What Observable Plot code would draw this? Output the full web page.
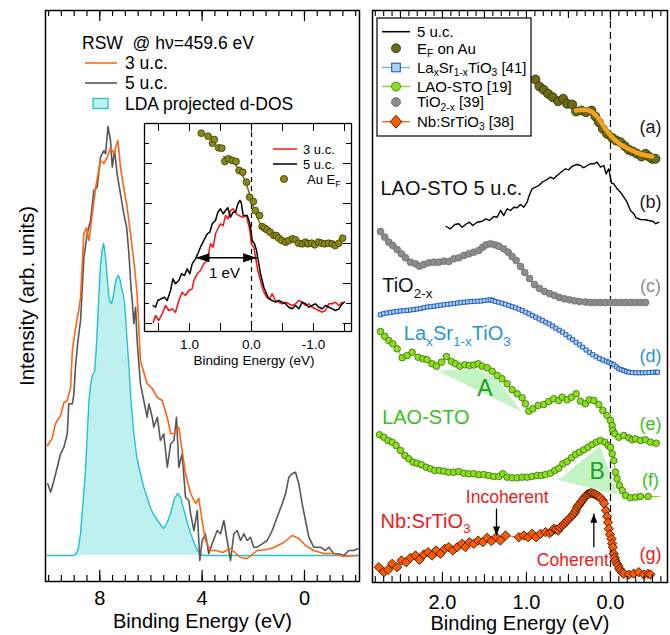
<!DOCTYPE html>
<html><head><meta charset="utf-8">
<script src="https://cdn.jsdelivr.net/npm/d3@7"></script>
<script src="https://cdn.jsdelivr.net/npm/@observablehq/plot@0.6"></script>
<style>
body{margin:0;background:#fff;}
#wrap{position:relative;width:670px;height:635px;overflow:hidden;background:#fff;font-family:"Liberation Sans",Arial,Helvetica,sans-serif;}
</style></head><body><div id="wrap"></div>
<script>
// ---------------- DATA (left panel: binding energy eV, intensity arb. units) ----------------
const leftTickLabels = [8, 4, 0];
const leftSeries = ["3 u.c.", "5 u.c.", "LDA projected d-DOS"];
const leftTitle = "RSW\u00a0\u00a0@ hν=459.6 eV";
const ldaDOS = [[10.05,0],[9.5,0],[9.0,0],[8.9,3],[8.83,8],[8.75,22],[8.68,45],[8.63,60],[8.55,88],[8.49,120],[8.42,155],[8.35,172],[8.29,180],[8.2,184],[8.14,205],[8.09,230],[8.03,262],[7.97,290],[7.9,306],[7.85,312],[7.79,302],[7.73,285],[7.67,265],[7.62,255],[7.54,252],[7.48,258],[7.42,268],[7.35,277],[7.27,280],[7.21,276],[7.15,268],[7.09,262],[7.03,252],[6.95,222],[6.86,188],[6.78,155],[6.67,122],[6.55,98],[6.41,82],[6.3,70],[6.2,62],[6.1,54],[6.02,48],[5.88,40],[5.74,35],[5.6,30],[5.51,27],[5.43,29],[5.35,34],[5.23,42],[5.15,50],[5.08,57],[4.96,62],[4.84,58],[4.73,47],[4.65,40],[4.57,32],[4.45,22],[4.3,12],[4.18,5],[4.05,1],[3.95,0],[3,0],[2,0],[1,0],[0,0],[-1,0],[-2.12,0]];
const rsw3uc = [[10.04,110],[9.86,117],[9.73,132],[9.53,140],[9.4,153],[9.27,155],[9.14,168],[9.07,205],[8.95,227],[8.82,245],[8.75,258],[8.62,322],[8.52,328],[8.42,315],[8.29,342],[8.16,368],[7.97,395],[7.84,392],[7.71,398],[7.58,408],[7.45,402],[7.29,415],[7.19,388],[7.06,368],[6.93,348],[6.8,322],[6.67,295],[6.54,262],[6.41,195],[6.15,172],[5.95,167],[5.75,158],[5.56,155],[5.36,138],[5.23,122],[5.1,122],[4.91,128],[4.78,105],[4.65,82],[4.45,62],[4.26,52],[4.13,57],[4.0,35],[3.87,15],[3.67,5],[3.46,5],[3.2,3],[2.89,7],[2.5,-2],[2.24,-3],[1.85,5],[1.46,6],[1.2,8],[0.81,13],[0.48,20],[0.22,17],[-0.04,10],[-0.36,5],[-0.75,2],[-1.14,2],[-1.54,-1],[-2.06,0]];
const rsw5uc = [[10.03,71.7],[9.92,63.3],[9.79,75],[9.66,88.3],[9.53,101.7],[9.4,108.3],[9.27,121.7],[9.21,151.7],[9.07,151.7],[9.01,161.7],[8.95,188.3],[8.85,215],[8.75,235],[8.62,298],[8.49,321.7],[8.36,335],[8.23,365],[8.1,368.3],[7.97,398.3],[7.84,405],[7.77,401.7],[7.68,429],[7.58,415],[7.51,388.3],[7.42,405],[7.32,381.7],[7.19,361.7],[7.06,341.7],[6.95,328.3],[6.86,301.7],[6.77,265],[6.73,255],[6.67,231.7],[6.6,248.3],[6.54,215],[6.41,171.7],[6.28,155],[6.15,138.3],[6.08,151.7],[5.95,138.3],[5.89,128.3],[5.75,138.3],[5.63,115],[5.5,121.7],[5.36,88.3],[5.23,111.7],[5.1,115],[5.0,138.3],[4.91,88.3],[4.78,101.7],[4.65,58.3],[4.52,55],[4.45,41.7],[4.32,25],[4.19,45],[4.09,-5],[4.0,15],[3.87,21.7],[3.74,1.7],[3.61,11.7],[3.41,25],[3.28,21.7],[3.15,35],[3.02,15],[2.89,-5],[2.76,21.7],[2.63,25],[2.5,15],[2.37,21.7],[2.24,15],[2.11,18.3],[1.98,8.3],[1.85,8.3],[1.65,11.7],[1.46,15],[1.26,25],[1.07,38.3],[0.87,51.7],[0.74,61.7],[0.61,78.3],[0.48,81.7],[0.35,83.3],[0.22,71.7],[0.09,51.7],[-0.04,35],[-0.17,18.3],[-0.36,8.3],[-0.63,8.3],[-0.82,5],[-0.95,8.3],[-1.15,1.7],[-1.34,1.7],[-1.54,0],[-1.73,5],[-1.93,5],[-2.08,6.7]];

// ---------------- DATA (inset) ----------------
const insetTickLabels = [1, 0, -1];
const insetSeries = ["3 u.c.", "5 u.c.", "Au E_{F}"];
const inset3uc = [[1.586,9.3],[1.548,16],[1.495,11],[1.441,17.7],[1.387,26],[1.333,21],[1.28,22.7],[1.226,19.3],[1.172,31],[1.118,39.3],[1.065,36],[1.011,41],[0.957,42.7],[0.93,51],[0.876,57.7],[0.823,61],[0.769,67.7],[0.715,71],[0.661,87.7],[0.618,84.3],[0.581,97.7],[0.543,102.7],[0.5,107.7],[0.457,106],[0.419,116],[0.376,112.7],[0.339,121],[0.296,122.7],[0.242,117.7],[0.204,116],[0.151,114.3],[0.113,115],[0.081,116],[0.059,109.3],[0.027,101],[0.0,87.7],[-0.038,84.3],[-0.065,74.3],[-0.102,61],[-0.145,51],[-0.188,41],[-0.242,34.3],[-0.296,32.7],[-0.333,37.7],[-0.387,31],[-0.441,29.3],[-0.495,27.7],[-0.548,29.3],[-0.602,27.7],[-0.656,26],[-0.71,27.7],[-0.763,31],[-0.817,29.3],[-0.871,26],[-0.925,27.7],[-0.978,24.3],[-1.032,22.7],[-1.086,21],[-1.14,19.3],[-1.194,21],[-1.247,27.7],[-1.301,27.7],[-1.355,29.3],[-1.409,26],[-1.462,29.3]];
const inset5uc = [[1.586,26],[1.548,24.3],[1.511,31],[1.457,32.7],[1.403,34.3],[1.36,31],[1.306,41],[1.269,52.7],[1.226,47.7],[1.172,51],[1.129,57.7],[1.081,56],[1.038,62.7],[0.995,57.7],[0.957,67.7],[0.903,72.7],[0.866,77.7],[0.823,84.3],[0.769,91],[0.715,97.7],[0.672,99.3],[0.634,107.7],[0.581,111],[0.543,119.3],[0.5,122.7],[0.457,117.7],[0.419,121],[0.382,123.7],[0.339,114.3],[0.296,119.3],[0.258,119.3],[0.22,127.7],[0.188,131],[0.167,129.3],[0.134,116],[0.097,116],[0.07,116],[0.043,111],[0.016,104.3],[-0.011,91],[-0.048,87.7],[-0.081,81],[-0.108,71],[-0.145,57.7],[-0.172,51],[-0.199,44.3],[-0.242,37.7],[-0.28,32.7],[-0.333,31],[-0.387,29.3],[-0.441,31],[-0.495,29.3],[-0.548,27.7],[-0.602,24.3],[-0.656,22.7],[-0.71,26],[-0.763,22.7],[-0.817,29.3],[-0.871,27.7],[-0.925,24.3],[-0.978,26],[-1.032,27.7],[-1.086,24.3],[-1.14,22.7],[-1.194,26],[-1.247,24.3],[-1.301,22.7],[-1.355,21],[-1.409,22.7],[-1.462,27.7],[-1.5,29.3]];
const insetAuEF = [[0.81,198.3],[0.7,195.3],[0.63,188.3],[0.6,192],[0.53,183.7],[0.48,183.3],[0.43,170],[0.37,172.7],[0.31,171],[0.25,170],[0.2,161],[0.14,159.3],[0.08,149.3],[0.03,134.3],[-0.03,130],[-0.06,121],[-0.13,116],[-0.17,105],[-0.21,103.3],[-0.25,101.7],[-0.3,99.3],[-0.36,96],[-0.4,96],[-0.44,93.3],[-0.49,91],[-0.55,89.3],[-0.6,91],[-0.66,92.7],[-0.71,91.7],[-0.76,88.3],[-0.82,87.7],[-0.87,89.3],[-0.91,87.7],[-0.97,88.3],[-1.02,86.7],[-1.08,89.3],[-1.13,88.3],[-1.18,87.7],[-1.24,88.3],[-1.3,87.7],[-1.35,86],[-1.41,88.3],[-1.47,93.3]];
const insetAuFit = [[0.45,175],[0.35,171],[0.25,166],[0.18,160],[0.12,153],[0.07,145],[0.03,137],[0.0,131],[-0.04,123],[-0.08,116],[-0.13,109],[-0.2,103],[-0.28,98],[-0.38,95],[-0.5,92],[-0.7,90],[-1.0,88.5],[-1.3,88],[-1.45,88]];
const widthArrow = [{from: 0.903, to: -0.091, level: 73.7, text: "1 eV", tE: 0.435, tI: 58.3}];

// ---------------- DATA (right panel) ----------------
const rightTickLabels = [2, 1, 0];
const rightSeries = ["5 u.c.", "E_{F} on Au", "La_{x}Sr_{1-x}TiO_{3} [41]", "LAO-STO [19]", "TiO_{2-x} [39]", "Nb:SrTiO_{3} [38]"];
const efOnAu = [[0.893,503],[0.845,496],[0.794,492.7],[0.742,488.7],[0.687,485.3],[0.623,481.3],[0.563,483.7],[0.516,478.7],[0.456,478],[0.409,471],[0.345,472],[0.29,470.3],[0.226,472],[0.179,466],[0.139,460.3],[0.091,453.7],[0.04,448.7],[-0.02,444.7],[-0.067,442],[-0.119,440.3],[-0.171,436.3],[-0.218,432.7],[-0.266,431],[-0.317,428.7],[-0.369,426],[-0.417,428.7],[-0.456,426],[-0.496,423.7],[-0.536,423.7]];
const efFit = [[0.409,472],[0.298,472.7],[0.218,470.3],[0.139,463.7],[0.06,453.7],[-0.02,445.3],[-0.099,439.3],[-0.179,435.3],[-0.258,432],[-0.377,428],[-0.496,426]];
const lao5uc = [[1.956,356],[1.905,353.7],[1.853,358],[1.806,358.7],[1.766,355.3],[1.726,358],[1.679,360.3],[1.639,357],[1.587,360.3],[1.528,361.3],[1.48,363.7],[1.44,362],[1.389,366],[1.349,365.3],[1.31,372],[1.27,367],[1.23,373.7],[1.19,372],[1.151,375.3],[1.111,374.7],[1.071,378],[1.032,375.3],[0.992,380.3],[0.972,386],[0.933,393.7],[0.893,395.3],[0.853,397],[0.813,400.3],[0.774,402],[0.714,405.3],[0.675,403.7],[0.635,407],[0.575,411.3],[0.536,413.7],[0.496,412.7],[0.456,416.3],[0.397,418],[0.357,417],[0.317,414.7],[0.278,417],[0.238,418.7],[0.198,418.7],[0.159,420.3],[0.119,415.3],[0.079,417],[0.052,408.7],[0.02,413.7],[-0.012,399.3],[-0.04,398.7],[-0.079,393.7],[-0.119,390.3],[-0.159,385.3],[-0.198,380.3],[-0.238,372],[-0.278,368.7],[-0.306,364.7],[-0.357,363],[-0.417,362.7],[-0.456,362],[-0.504,361.3],[-0.536,358.7],[-0.575,360.3]];
const tio2x = [[2.738,351],[2.687,345.3],[2.639,340.3],[2.591,337],[2.54,333],[2.488,328.7],[2.44,324.7],[2.381,320.3],[2.321,318.7],[2.274,316.3],[2.222,318],[2.163,319.7],[2.103,320.3],[2.044,320.3],[1.984,321.3],[1.925,321],[1.865,323.7],[1.806,324.7],[1.746,327],[1.687,328.7],[1.627,330.3],[1.567,332],[1.52,335.3],[1.48,337.7],[1.429,338.7],[1.377,337.7],[1.329,336.3],[1.27,333.7],[1.218,330.3],[1.171,326],[1.123,322],[1.071,316],[1.02,310],[0.964,304],[0.905,298],[0.845,294],[0.786,291],[0.726,289],[0.667,287],[0.607,285],[0.548,283.7],[0.488,282.7],[0.429,281.7],[0.369,281],[0.298,280.5],[0.238,280],[0.179,280],[0.119,280],[0.06,280],[0.0,280],[-0.06,280],[-0.119,280],[-0.179,280],[-0.238,280],[-0.298,280],[-0.357,280],[-0.417,280]];
const lasrtio3 = [[2.74,267.7],[2.7,268.8],[2.66,269.5],[2.62,270],[2.58,270.6],[2.54,271],[2.5,271.5],[2.46,271.8],[2.42,272.1],[2.38,272.5],[2.34,273],[2.3,273.5],[2.26,274],[2.22,274.8],[2.18,275.5],[2.14,275.8],[2.1,276.3],[2.06,276.8],[2.02,277.3],[1.98,277.8],[1.94,278.2],[1.9,278.6],[1.86,279],[1.82,279.5],[1.78,279.9],[1.74,280.3],[1.7,280.6],[1.66,280.9],[1.62,281.1],[1.58,281.3],[1.54,281.5],[1.5,282],[1.46,282.3],[1.43,282.7],[1.4,282],[1.37,281],[1.33,280.3],[1.29,279.3],[1.25,278.2],[1.21,277],[1.17,275.8],[1.13,274.7],[1.09,273.4],[1.05,272],[1.01,270.3],[0.97,268.7],[0.93,267],[0.89,265.3],[0.85,263.6],[0.81,262],[0.77,260.3],[0.73,258.6],[0.69,256.5],[0.65,254.3],[0.61,252.3],[0.57,250.3],[0.53,247.8],[0.49,245.3],[0.45,242.8],[0.41,240.3],[0.37,237.8],[0.33,235.3],[0.29,232.5],[0.25,230],[0.21,227.8],[0.17,225.8],[0.13,224],[0.09,222.5],[0.05,221.3],[0.02,220.3],[-0.01,219],[-0.04,217.7],[-0.07,215.7],[-0.1,213.7],[-0.13,212.8],[-0.16,212],[-0.19,211],[-0.22,210.3],[-0.26,210],[-0.3,209.7],[-0.34,209.7],[-0.38,209.7],[-0.42,209.8],[-0.46,210],[-0.5,210.2],[-0.54,210.3],[-0.56,210.3]];
const laoStoE = [[2.738,251],[2.687,246],[2.639,242],[2.591,238.7],[2.54,233.7],[2.48,224.7],[2.421,227],[2.361,230.3],[2.29,225.3],[2.234,223.7],[2.183,222.7],[2.123,218.7],[2.071,216.3],[2.012,220.3],[1.952,226],[1.893,221],[1.845,218.7],[1.794,216.3],[1.734,217.7],[1.679,217],[1.627,217.5],[1.575,218.7],[1.528,216.3],[1.468,214.7],[1.409,211.3],[1.349,207],[1.29,203.7],[1.23,198.7],[1.171,192.7],[1.111,188.7],[1.052,184.7],[1.012,178.7],[0.972,171.3],[0.925,173.7],[0.861,177],[0.794,178],[0.734,181],[0.675,183.7],[0.615,182],[0.575,185.3],[0.516,182.7],[0.464,185.3],[0.409,188.7],[0.357,181.3],[0.298,178.7],[0.25,182.7],[0.198,182],[0.139,178],[0.091,172],[0.04,167],[0.0,162],[-0.02,157],[-0.028,152],[-0.052,148.7],[-0.099,145.3],[-0.159,147],[-0.218,144.7],[-0.258,142.7],[-0.298,143.7],[-0.357,142],[-0.417,142.7],[-0.476,140.3],[-0.544,139.3]];
const laoStoF = [[2.75,147.7],[2.698,145.3],[2.647,142],[2.599,140.3],[2.552,137],[2.5,132],[2.448,127],[2.401,123.7],[2.349,120.3],[2.302,119.3],[2.25,117.7],[2.194,115.3],[2.143,113.7],[2.091,112],[2.036,112],[1.984,111.3],[1.925,110.3],[1.865,110.3],[1.806,111],[1.746,109.3],[1.687,108.7],[1.627,108.7],[1.567,107.7],[1.508,108],[1.448,107],[1.389,106],[1.329,106],[1.282,108.7],[1.23,105.3],[1.171,104.7],[1.111,104.7],[1.052,105.3],[0.992,105.3],[0.933,106],[0.873,107],[0.821,107],[0.774,108],[0.714,109.3],[0.663,112],[0.615,114.3],[0.567,118.7],[0.516,121],[0.464,124.7],[0.417,128],[0.369,130.3],[0.317,132.7],[0.266,135.3],[0.218,138],[0.167,140.3],[0.119,142],[0.067,140.3],[0.028,137],[0.0,135.3],[-0.02,128.7],[-0.04,122],[-0.06,110.3],[-0.079,103.7],[-0.107,97],[-0.139,92],[-0.179,87],[-0.238,84.7],[-0.298,85.3],[-0.357,86],[-0.448,86]];
const laoStoFTail = [[-0.448,86],[-0.583,86]];
const nbSrTiO3 = [[2.758,15.3],[2.698,10.3],[2.647,12.7],[2.599,18.7],[2.54,15.3],[2.488,22],[2.433,20.3],[2.381,24.7],[2.321,27],[2.274,22.7],[2.222,28],[2.171,30.3],[2.123,27],[2.075,32],[2.024,28.7],[1.972,33.7],[1.925,35.3],[1.877,32],[1.825,35.3],[1.766,38.7],[1.726,35.3],[1.679,40.3],[1.627,38.7],[1.575,42],[1.52,40.3],[1.468,44.7],[1.417,41.3],[1.361,45.3],[1.31,42],[1.25,47],[1.091,45.3],[1.032,47],[0.98,45.3],[0.933,48.7],[0.885,45.3],[0.833,48.7],[0.774,50.3],[0.726,49.3],[0.7,51],[0.675,53.7],[0.65,53],[0.623,52],[0.6,55],[0.575,57],[0.555,58.5],[0.536,60.3],[0.515,62],[0.496,63.7],[0.475,65.3],[0.456,67],[0.44,68.5],[0.425,70.3],[0.41,72.5],[0.397,75.3],[0.38,77],[0.365,78.7],[0.35,80.5],[0.337,82],[0.32,83.7],[0.306,85.3],[0.29,86.7],[0.278,88],[0.26,88.7],[0.238,89.3],[0.22,89.3],[0.198,88.7],[0.18,88],[0.159,87],[0.14,86],[0.119,84.7],[0.091,82],[0.075,79],[0.055,72],[0.04,66],[0.03,60],[0.02,53.7],[0.005,48],[-0.012,43.7],[-0.02,39],[-0.028,35.3],[-0.04,28.7],[-0.05,25],[-0.06,22],[-0.075,19],[-0.091,17],[-0.105,14],[-0.119,12],[-0.14,10],[-0.159,8.7],[-0.218,8],[-0.278,9],[-0.337,10.3],[-0.397,8],[-0.448,8.7],[-0.476,8]];
const shadeA = [[2.052,211.3,211.3],[1.587,192,213],[1.33,181.7,202],[1.052,170.3,170.3]];
const shadeB = [[0.615,102,102],[0.119,91.6,136],[-0.099,87,87]];
const shadeLetters = [{t:"A", E:1.496, v:193.7},{t:"B", E:0.159, v:111.3}];
const curveTags = ["(a)","(b)","(c)","(d)","(e)","(f)","(g)"];
const curveTagLevels = [455.3, 380.3, 296, 226, 158, 102.7, 28];
const curveTagE = -0.476;
const curveNames = [{t:"LAO-STO 5 u.c.", E:2.738, v:393.7},{t:"TiO_{2-x}", E:2.718, v:297},{t:"La_{x}Sr_{1-x}TiO_{3}", E:2.46, v:249},{t:"LAO-STO", E:2.718, v:165.3},{t:"Nb:SrTiO_{3}", E:2.738, v:61.3}];
const peakNotes = [{t:"Incoherent", E:1.23, v:85.3, from:74, to:47, aE:1.357},{t:"Coherent", E:0.448, v:22, from:35.3, to:68.7, aE:0.198}];

// ---------------- helpers ----------------
const FONT = '"Liberation Sans", Arial, Helvetica, sans-serif';
const wrap = document.getElementById("wrap");
const X = d => d[0], Y = d => d[1];
function rich(s, fs, k = 0.28) {
  let out = "", down = false;
  for (const p of s.split(/(_\{[^}]*\})/)) {
    if (!p) continue;
    if (p.startsWith("_{")) { out += `<tspan font-size="${(fs*0.68).toFixed(1)}" dy="${down?0:(fs*k).toFixed(1)}">${p.slice(2,-1)}</tspan>`; down = true; }
    else { out += `<tspan dy="${down?(-fs*k).toFixed(1):0}">${p}</tspan>`; down = false; }
  }
  return out;
}
function place(svg, left, top) {
  Object.assign(svg.style, {position:"absolute", left:left+"px", top:top+"px", background:"transparent", overflow:"visible", maxWidth:"none"});
  wrap.appendChild(svg);
  svg.querySelectorAll("text").forEach(t => {
    const s = t.textContent;
    if (!s.includes("_{")) return;
    const fs = parseFloat(getComputedStyle(t).fontSize) || 16;
    t.innerHTML = rich(s, fs);
  });
}
const headR = {draw(c){c.moveTo(0,0);c.lineTo(-14,-4.5);c.lineTo(-14,4.5);c.closePath();}};
const headL = {draw(c){c.moveTo(0,0);c.lineTo(14,-4.5);c.lineTo(14,4.5);c.closePath();}};
const headD = {draw(c){c.moveTo(0,0);c.lineTo(-3.5,-9);c.lineTo(3.5,-9);c.closePath();}};
const headU = {draw(c){c.moveTo(0,0);c.lineTo(-3.5,9);c.lineTo(3.5,9);c.closePath();}};

// ---------------- LEFT PANEL ----------------
{
  const W = 365, H = 635, mT = 10, mB = 54, frameH = H - mT - mB;
  const ticks = d3.range(-2, 10.01, 0.5);
  const svg = Plot.plot({
    width: W, height: H, marginLeft: 45, marginRight: 6, marginTop: mT, marginBottom: mB,
    x: {domain: [10.12, -2.15]},
    y: {domain: [-26, 545], axis: null},
    style: {fontFamily: FONT, color: "black"},
    marks: [
      Plot.areaY(ldaDOS, {x: X, y: Y, fill: "#bff0f0"}),
      Plot.line(ldaDOS, {x: X, y: Y, stroke: "#22c3cb", strokeWidth: 1.4}),
      Plot.line(rsw5uc, {x: X, y: Y, stroke: "#575757", strokeWidth: 1.6}),
      Plot.line(rsw3uc, {x: X, y: Y, stroke: "#ff6414", strokeWidth: 1.6}),
      Plot.frame({stroke: "black", strokeWidth: 1.5}),
      Plot.tickX(ticks, {x: d => d, insetTop: frameH - 6, stroke: "black", strokeWidth: 1.2}),
      Plot.tickX(ticks, {x: d => d, insetBottom: frameH - 6, stroke: "black", strokeWidth: 1.2}),
      Plot.tickX(leftTickLabels, {x: d => d, insetTop: frameH - 11, stroke: "black", strokeWidth: 1.2}),
      Plot.tickX(leftTickLabels, {x: d => d, insetBottom: frameH - 11, stroke: "black", strokeWidth: 1.2}),
      Plot.axisX({ticks: leftTickLabels, anchor: "bottom", tickSize: 0, tickPadding: 9, fontSize: 20, tickFormat: d => String(d), label: null}),
      Plot.text(["Binding Energy (eV)"], {frameAnchor: "bottom", dy: 32, lineAnchor: "top", fontSize: 20}),
      Plot.text(["Intensity (arb. units)"], {frameAnchor: "left", dx: -18, rotate: -90, textAnchor: "middle", fontSize: 20.5})
    ]
  });
  place(svg, 0, 0);
}

// ---------------- INSET ----------------
{
  const W = 265, H = 260, mL = 44, mR = 14, mT = 13, mB = 39;
  const frameW = W - mL - mR, frameH = H - mT - mB;
  const xt = d3.range(-1.5, 1.51, 0.5);
  const yLong = [8, 48, 88, 128, 168], yShort = [28, 68, 108, 148, 188];
  const a = widthArrow;
  const svg = Plot.plot({
    width: W, height: H, marginLeft: mL, marginRight: mR, marginTop: mT, marginBottom: mB,
    x: {domain: [1.726, -1.613]},
    y: {domain: [0, 208], axis: null},
    style: {fontFamily: FONT, color: "black"},
    marks: [
      Plot.frame({fill: "white"}),
      Plot.ruleX([0], {stroke: "black", strokeWidth: 1.2, strokeDasharray: "5,4"}),
      Plot.line(inset3uc, {x: X, y: Y, stroke: "#ff1010", strokeWidth: 1.5}),
      Plot.line(inset5uc, {x: X, y: Y, stroke: "black", strokeWidth: 1.5}),
      Plot.line(insetAuFit, {x: X, y: Y, stroke: "#6e6e10", strokeWidth: 1.5, curve: "catmull-rom"}),
      Plot.dot(insetAuEF, {x: X, y: Y, r: 3.4, fill: "#8a8a18", stroke: "#3a3a00", strokeWidth: 0.8}),
      Plot.link(a, {x1: d => d.from, x2: d => d.to, y1: d => d.level, y2: d => d.level, stroke: "black", strokeWidth: 1.4}),
      Plot.dot(a, {x: d => d.to, y: d => d.level, symbol: headR, fill: "black", stroke: "none"}),
      Plot.dot(a, {x: d => d.from, y: d => d.level, symbol: headL, fill: "black", stroke: "none"}),
      Plot.text(a, {x: d => d.tE, y: d => d.tI, text: d => d.text, fontSize: 15}),
      Plot.frame({stroke: "black", strokeWidth: 1.3}),
      Plot.tickX(xt, {x: d => d, insetTop: frameH - 8, stroke: "black"}),
      Plot.tickX(xt, {x: d => d, insetBottom: frameH - 8, stroke: "black"}),
      Plot.tickY(yLong, {y: d => d, insetRight: frameW - 8, stroke: "black"}),
      Plot.tickY(yShort, {y: d => d, insetRight: frameW - 5, stroke: "black"}),
      Plot.tickY(yLong, {y: d => d, insetLeft: frameW - 8, stroke: "black"}),
      Plot.tickY(yShort, {y: d => d, insetLeft: frameW - 5, stroke: "black"}),
      Plot.axisX({ticks: insetTickLabels, anchor: "bottom", tickSize: 0, tickPadding: 8, fontSize: 13.5, tickFormat: d => d.toFixed(1), label: null}),
      Plot.text(["Binding Energy (eV)"], {frameAnchor: "bottom", dy: 24, dx: 6, lineAnchor: "top", fontSize: 13.5})
    ]
  });
  place(svg, 100, 110);
}

// ---------------- RIGHT PANEL ----------------
{
  const W = 305, H = 635, mT = 10, mB = 53, frameH = H - mT - mB;
  const ticks = d3.range(-0.6, 2.81, 0.1);
  const halfTicks = [2.5, 1.5, 0.5, -0.5];
  const tagColors = ["#1a1a1a", "#1a1a1a", "#8e8e8e", "#2a93d5", "#3dbf1c", "#3dbf1c", "#ee1a1a"];
  const nameColors = ["#111", "#111", "#2a93d5", "#3dbf1c", "#ee1a1a"];
  const svg = Plot.plot({
    width: W, height: H, marginLeft: 7, marginRight: 3, marginTop: mT, marginBottom: mB,
    x: {domain: [2.833, -0.679]},
    y: {domain: [0, 572], axis: null},
    style: {fontFamily: FONT, color: "black"},
    marks: [
      Plot.areaY(shadeA, {x: d => d[0], y1: d => d[1], y2: d => d[2], fill: "#c4f4c4"}),
      Plot.areaY(shadeB, {x: d => d[0], y1: d => d[1], y2: d => d[2], fill: "#c4f4c4"}),
      Plot.ruleX([0], {stroke: "black", strokeWidth: 1.2, strokeDasharray: "7,4"}),
      // (a)
      Plot.dot(efOnAu, {x: X, y: Y, r: 4.5, fill: "#6b6b16", stroke: "#2a2a00", strokeWidth: 0.8}),
      Plot.line(efFit, {x: X, y: Y, stroke: "#f4a41c", strokeWidth: 4.5, strokeLinecap: "round", curve: "catmull-rom"}),
      // (b)
      Plot.line(lao5uc, {x: X, y: Y, stroke: "black", strokeWidth: 1.4}),
      // (c)
      Plot.dot(tio2x, {x: X, y: Y, r: 3.4, fill: "#8c8c8c", stroke: "#6e6e6e", strokeWidth: 0.8}),
      // (d)
      Plot.line(lasrtio3, {x: X, y: Y, stroke: "#6ab0e6", strokeWidth: 1}),
      Plot.dot(lasrtio3, {x: X, y: Y, r: 2.6, symbol: "square2", fill: "#a9d6f7", stroke: "#1d4fb8", strokeWidth: 0.9}),
      // (e)
      Plot.line(laoStoE, {x: X, y: Y, stroke: "#80d81c", strokeWidth: 1.1}),
      Plot.dot(laoStoE, {x: X, y: Y, r: 3.3, fill: "#8be01e", stroke: "#356b00", strokeWidth: 0.8}),
      // (f)
      Plot.line(laoStoF, {x: X, y: Y, stroke: "#80d81c", strokeWidth: 1.1}),
      Plot.line(laoStoFTail, {x: X, y: Y, stroke: "#80d81c", strokeWidth: 1.1}),
      Plot.dot(laoStoF, {x: X, y: Y, r: 3.3, fill: "#8be01e", stroke: "#356b00", strokeWidth: 0.8}),
      // (g)
      Plot.line(nbSrTiO3, {x: X, y: Y, stroke: "#ff5a00", strokeWidth: 1}),
      Plot.dot(nbSrTiO3, {x: X, y: Y, r: 4.2, symbol: "diamond2", fill: "#ff5a00", stroke: "#3a1500", strokeWidth: 0.9}),
      // labels
      Plot.text(shadeLetters, {x: d => d.E, y: d => d.v, text: d => d.t, fontSize: 23, fill: "#22a022"}),
      ...curveTags.map((t, i) => Plot.text([t], {x: () => curveTagE, y: () => curveTagLevels[i], text: d => d, fontSize: 18, fill: tagColors[i]})),
      ...curveNames.map((n, i) => Plot.text([n], {x: d => d.E, y: d => d.v, text: d => d.t, textAnchor: "start", fontSize: 20, fill: nameColors[i]})),
      Plot.text(peakNotes, {x: d => d.E, y: d => d.v, text: d => d.t, fontSize: 17.5, fill: "#ee1a1a"}),
      Plot.link(peakNotes, {x1: d => d.aE, x2: d => d.aE, y1: d => d.from, y2: d => d.to, stroke: "black", strokeWidth: 1.3}),
      Plot.dot([peakNotes[0]], {x: d => d.aE, y: d => d.to, symbol: headD, fill: "black", stroke: "none"}),
      Plot.dot([peakNotes[1]], {x: d => d.aE, y: d => d.to, symbol: headU, fill: "black", stroke: "none"}),
      Plot.frame({stroke: "black", strokeWidth: 1.5}),
      Plot.tickX(ticks, {x: d => d, insetTop: frameH - 6, stroke: "black", strokeWidth: 1.1}),
      Plot.tickX(ticks, {x: d => d, insetBottom: frameH - 6, stroke: "black", strokeWidth: 1.1}),
      Plot.tickX(halfTicks, {x: d => d, insetTop: frameH - 8, stroke: "black", strokeWidth: 1.1}),
      Plot.tickX(halfTicks, {x: d => d, insetBottom: frameH - 8, stroke: "black", strokeWidth: 1.1}),
      Plot.tickX(rightTickLabels, {x: d => d, insetTop: frameH - 10, stroke: "black", strokeWidth: 1.1}),
      Plot.tickX(rightTickLabels, {x: d => d, insetBottom: frameH - 10, stroke: "black", strokeWidth: 1.1}),
      Plot.axisX({ticks: rightTickLabels, anchor: "bottom", tickSize: 0, tickPadding: 12, fontSize: 20, tickFormat: d => d.toFixed(1), label: null}),
      Plot.text(["Binding Energy (eV)"], {frameAnchor: "bottom", dy: 33, lineAnchor: "top", fontSize: 20})
    ]
  });
  place(svg, 365, 0);
}

// ---------------- LEGENDS (overlay) ----------------
{
  const fL = 17.5, fI = 13, fR = 15;
  const rows = [31.7, 48.3, 67.5, 86.5, 102, 121.7];
  let s = `<svg xmlns="http://www.w3.org/2000/svg" width="670" height="635" style="position:absolute;left:0;top:0;font-family:${FONT.replace(/"/g,"'")};white-space:pre">`;
  // left legend
  s += `<text x="82" y="49" font-size="${fL}">${leftTitle}</text>`;
  s += `<line x1="85" x2="117" y1="63" y2="63" stroke="#ff6414" stroke-width="1.6"/><text x="125" y="69" font-size="${fL}">${leftSeries[0]}</text>`;
  s += `<line x1="85" x2="117" y1="83" y2="83" stroke="#575757" stroke-width="1.6"/><text x="125" y="89" font-size="${fL}">${leftSeries[1]}</text>`;
  s += `<rect x="93" y="98.5" width="15" height="10" fill="#bff0f0" stroke="#22c3cb" stroke-width="1.3"/><text x="125" y="109.5" font-size="${fL}">${leftSeries[2]}</text>`;
  // inset legend
  s += `<line x1="273" x2="297" y1="149" y2="149" stroke="#ff1010" stroke-width="1.5"/><text x="303" y="153.5" font-size="${fI}">${insetSeries[0]}</text>`;
  s += `<line x1="273" x2="297" y1="164" y2="164" stroke="black" stroke-width="1.5"/><text x="303" y="168.5" font-size="${fI}">${insetSeries[1]}</text>`;
  s += `<circle cx="284" cy="179" r="3.6" fill="#8a8a18" stroke="#3a3a00" stroke-width="0.8"/><text x="307" y="183.5" font-size="${fI}">${rich(insetSeries[2], fI)}</text>`;
  // right legend
  s += `<rect x="377" y="18" width="154" height="118" fill="white" stroke="black" stroke-width="1.2"/>`;
  const lx1 = 382, lx2 = 410, cx = 396, tx = 417;
  s += `<line x1="${lx1}" x2="${lx2}" y1="${rows[0]}" y2="${rows[0]}" stroke="black" stroke-width="1.5"/>`;
  s += `<circle cx="${cx}" cy="${rows[1]}" r="4.5" fill="#6b6b16" stroke="#2a2a00" stroke-width="0.8"/>`;
  s += `<line x1="${lx1}" x2="${lx2}" y1="${rows[2]}" y2="${rows[2]}" stroke="#6ab0e6" stroke-width="1.3"/><rect x="${cx-4.3}" y="${rows[2]-4.3}" width="8.6" height="8.6" fill="#a9d6f7" stroke="#1d4fb8" stroke-width="1"/>`;
  s += `<line x1="${lx1}" x2="${lx2}" y1="${rows[3]}" y2="${rows[3]}" stroke="#80d81c" stroke-width="1.3"/><circle cx="${cx}" cy="${rows[3]}" r="4.5" fill="#8be01e" stroke="#356b00" stroke-width="0.8"/>`;
  s += `<circle cx="${cx}" cy="${rows[4]}" r="4.5" fill="#8c8c8c" stroke="#6e6e6e" stroke-width="0.8"/>`;
  s += `<line x1="${lx1}" x2="${lx2}" y1="${rows[5]}" y2="${rows[5]}" stroke="#ff5a00" stroke-width="1.3"/><path d="M${cx},${rows[5]-6.5}L${cx+5.8},${rows[5]}L${cx},${rows[5]+6.5}L${cx-5.8},${rows[5]}Z" fill="#ff5a00" stroke="#3a1500" stroke-width="0.9"/>`;
  rightSeries.forEach((n, i) => { s += `<text x="${tx}" y="${rows[i] + 5.2}" font-size="${fR}">${rich(n, fR, 0.22)}</text>`; });
  s += `</svg>`;
  wrap.insertAdjacentHTML("beforeend", s);
}
</script></body></html>
